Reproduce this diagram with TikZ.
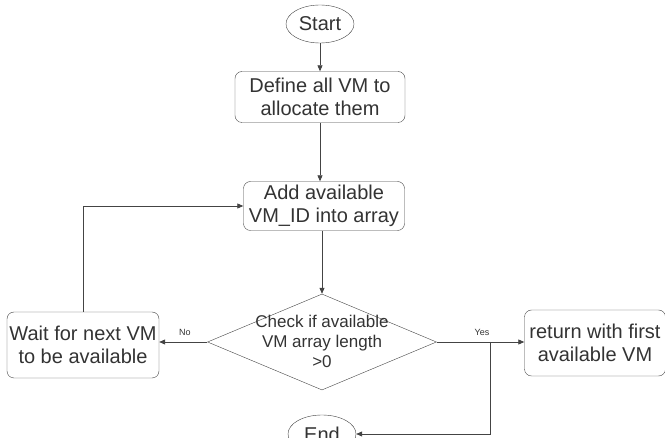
\documentclass[tikz,border=0pt]{standalone}
\usepackage{fontspec}
\setmainfont{Liberation Sans}
\usetikzlibrary{shapes.geometric,arrows.meta}
\definecolor{ln}{HTML}{444444}
\definecolor{tx}{HTML}{333333}
\begin{document}
\begin{tikzpicture}[x=1pt,y=-1pt,
  font=\fontsize{20}{23}\selectfont,
  every node/.style={text=tx},
  term/.style={draw=ln, ellipse, minimum width=68pt, minimum height=38pt, inner sep=0pt},
  proc/.style={draw=ln, rounded corners=7pt, align=center, inner sep=0pt},
  lbl/.style={font=\fontsize{9}{10}\selectfont, inner sep=0pt},
  conn/.style={draw=ln, line width=0.8pt, -{Triangle[length=6pt,width=5pt]}},
  plain/.style={draw=ln, line width=0.8pt}]
\useasboundingbox (0,0) rectangle (665,438);
\node[term] (start) at (320,24) {Start};
\node[proc, minimum width=170pt, minimum height=51pt] (def) at (320,97) {Define all VM to\\allocate them};
\node[proc, minimum width=161pt, minimum height=49pt] (add) at (324,206) {Add available\\VM\_ID into array};
\node[draw=ln, diamond, minimum width=229pt, minimum height=96pt, inner sep=0pt] (dec) at (322,342) {};
\node[align=center, inner sep=0pt, font=\fontsize{17}{20}\selectfont] (dect) at (322,341) {Check if available\\VM array length\\>0};
\node[proc, minimum width=152pt, minimum height=66pt] (wait) at (83,345) {Wait for next VM\\to be available};
\node[proc, minimum width=141pt, minimum height=66pt] (ret) at (595,343) {return with first\\available VM};
\node[term] (end) at (322,434) {End};
\coordinate (br) at (490,342);
\draw[conn] (start) -- (def);
\draw[conn] (def.south) -- (def.south |- add.north);
\draw[conn] (dec.north |- add.south) -- (dec.north);
\draw[conn] (dec.west) -- (dec.west -| wait.east);
\draw[conn] (wait.north) |- (add.west);
\draw[conn] (dec.east) -- (dec.east -| ret.west);
\draw[conn] (br) |- (end.east);
\node[lbl] (no) at (185,332) {No};
\node[lbl] (yes) at (482,332) {Yes};
\end{tikzpicture}
\end{document}
